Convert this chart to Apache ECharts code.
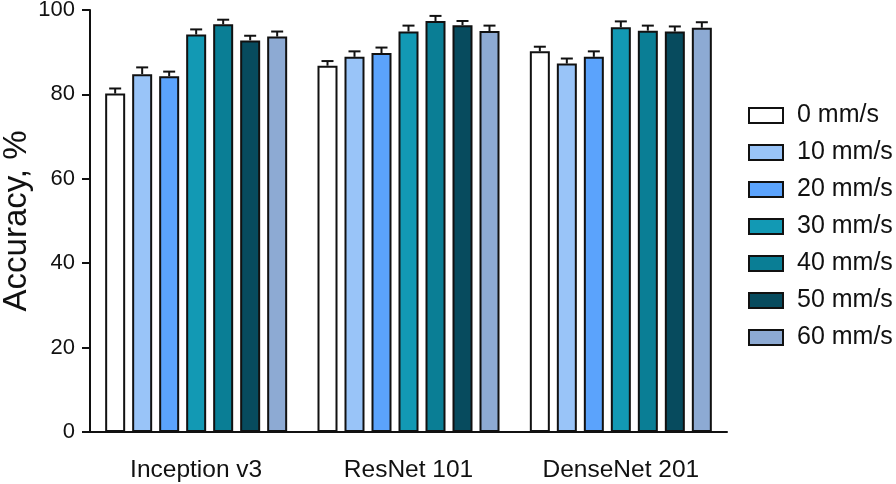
<!DOCTYPE html>
<html><head><meta charset="utf-8">
<script src="https://cdn.jsdelivr.net/npm/echarts@6/dist/echarts.min.js"></script>
<style>html,body{margin:0;padding:0;background:#fff}#c{width:896px;height:484px}</style>
</head><body><div id="c"></div>
<script>
const categories = ['Inception v3', 'ResNet 101', 'DenseNet 201'];
const seriesNames = ['0 mm/s', '10 mm/s', '20 mm/s', '30 mm/s', '40 mm/s', '50 mm/s', '60 mm/s'];
const colors = ['#ffffff', '#99c4f8', '#5ba3fc', '#1299b4', '#0a7e95', '#074b5e', '#8daad3'];
const v0 = [80.2, 86.8, 90.2];
const v10 = [84.8, 88.9, 87.3];
const v20 = [84.3, 89.8, 88.9];
const v30 = [94.2, 94.9, 95.9];
const v40 = [96.6, 97.4, 95.1];
const v50 = [92.8, 96.4, 94.9];
const v60 = [93.7, 95.0, 95.8];
const e0 = [1.2, 1.1, 1.1];
const e10 = [1.6, 1.3, 1.2];
const e20 = [1.1, 1.3, 1.3];
const e30 = [1.2, 1.4, 1.4];
const e40 = [1.1, 1.2, 1.2];
const e50 = [1.1, 1.0, 1.2];
const e60 = [1.2, 1.3, 1.3];
const yTicks = [0, 20, 40, 60, 80, 100];

const values = [v0, v10, v20, v30, v40, v50, v60];
const errors = [e0, e10, e20, e30, e40, e50, e60];
const BW = 20, GAP = 7, N = values.length;
const font = 'Liberation Sans, Arial, sans-serif';

const series = [];
values.forEach((v, i) => {
  series.push({
    name: seriesNames[i], type: 'bar', data: v, barWidth: BW, barGap: (GAP / BW * 100) + '%',
    itemStyle: { color: colors[i], borderColor: '#111', borderWidth: 2 },
    z: 2
  });
});
values.forEach((v, i) => {
  const total = N * BW + (N - 1) * GAP;
  const off = -total / 2 + i * (BW + GAP) + BW / 2;
  series.push({
    name: 'err' + i, type: 'custom', z: 3,
    data: v.map((val, k) => [k, val, val + errors[i][k]]),
    renderItem: function (params, api) {
      const top = api.coord([api.value(0), api.value(2)]);
      const base = api.coord([api.value(0), api.value(1)]);
      const x = top[0] + off;
      const cap = 6;
      return {
        type: 'group', children: [
          { type: 'line', shape: { x1: x, y1: base[1], x2: x, y2: top[1] }, style: { stroke: '#111', lineWidth: 2 } },
          { type: 'line', shape: { x1: x - cap, y1: top[1], x2: x + cap, y2: top[1] }, style: { stroke: '#111', lineWidth: 2 } }
        ]
      };
    },
    encode: { x: 0, y: 2 }
  });
});

const chart = echarts.init(document.getElementById('c'));
chart.setOption({
  animation: false,
  grid: { left: 90, right: 169, top: 10, bottom: 52, containLabel: false, outerBoundsMode: 'none' },
  legend: {
    data: seriesNames, orient: 'vertical', left: 743, top: 98,
    icon: 'rect', itemWidth: 34, itemHeight: 15, itemGap: 12,
    textStyle: { fontFamily: font, fontSize: 25, color: '#111', lineHeight: 22, padding: [0, 0, 0, 9] }
  },
  xAxis: {
    type: 'category', data: categories,
    axisLine: { lineStyle: { color: '#111', width: 2 } },
    axisTick: { alignWithLabel: true, length: 10, lineStyle: { color: '#111', width: 2 } },
    axisLabel: { fontFamily: font, fontSize: 24.5, color: '#111', margin: 26 }
  },
  yAxis: {
    type: 'value', min: 0, max: 100, interval: 20,
    name: 'Accuracy, %', nameLocation: 'middle', nameGap: 57, nameMoveOverlap: false,
    nameTextStyle: { fontFamily: font, fontSize: 33, color: '#111' },
    axisLine: { show: true, lineStyle: { color: '#111', width: 2 } },
    axisTick: { show: true, length: 8, lineStyle: { color: '#111', width: 2 } },
    axisLabel: { fontFamily: font, fontSize: 22, color: '#111', margin: 15,
      formatter: v => yTicks.includes(v) ? String(v) : '' },
    splitLine: { show: false }
  },
  series: series
});
</script></body></html>
